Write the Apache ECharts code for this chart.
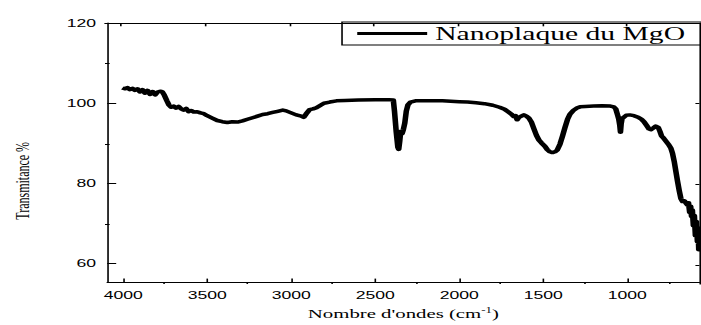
<!DOCTYPE html>
<html>
<head>
<meta charset="utf-8">
<script src="https://cdn.jsdelivr.net/npm/echarts@6/dist/echarts.min.js"></script>
<style>
  html, body { margin: 0; padding: 0; background: #fff; overflow: hidden; }
  /* the reference figure is stretched sideways, so the chart is drawn narrow and scaled */
  #main { width: 438px; height: 325px; transform: scaleX(1.6005); transform-origin: 0 0; }
</style>
</head>
<body>
<div id="main"></div>
<script>
// wavenumber (cm-1) and transmittance (%)
var wavenumbers = [
  4005, 3990, 3975, 3960, 3945, 3930, 3915, 3900, 3885, 3870, 3855, 3840, 3825, 3810, 3795, 3780,
  3768, 3755, 3740, 3728, 3715, 3700, 3685, 3670, 3655, 3640, 3625, 3610, 3595, 3580, 3560, 3540,
  3520, 3500, 3470, 3440, 3410, 3380, 3350, 3320, 3290, 3260, 3230, 3200, 3170, 3140, 3110, 3080,
  3050, 3030, 3000, 2970, 2940, 2925, 2910, 2890, 2870, 2850, 2830, 2805, 2770, 2730, 2680, 2600,
  2500, 2420, 2392, 2385, 2375, 2365, 2360, 2354, 2348, 2340, 2332, 2324, 2315, 2305, 2290, 2260,
  2200, 2100, 2000, 1950, 1900, 1850, 1800, 1760, 1730, 1710, 1690, 1675, 1665, 1655, 1645, 1630,
  1615, 1600, 1585, 1570, 1555, 1540, 1525, 1510, 1490, 1475, 1460, 1445, 1430, 1417, 1400, 1385,
  1370, 1355, 1340, 1320, 1300, 1280, 1250, 1200, 1150, 1100, 1080, 1068, 1058, 1050, 1044, 1040,
  1036, 1030, 1020, 1005, 985, 960, 935, 915, 900, 885, 870, 860, 845, 830, 815, 805,
  795, 785, 770, 755, 740, 730, 720, 710, 700, 690, 680, 670, 660, 650, 640, 635,
  628, 622, 617, 612, 606, 600, 594, 588, 582, 578, 574, 571
];
var transmittance = [
  103.8, 103.6, 103.9, 103.4, 103.7, 103.2, 103.6, 102.8, 103.4, 102.5, 103.2, 102.2, 102.9, 102.1, 102.8, 103.0,
  102.9, 102.0, 100.6, 99.6, 99.0, 99.3, 98.8, 99.2, 98.6, 98.3, 98.7, 97.9, 98.2, 97.8, 97.9, 97.6,
  97.4, 96.9, 96.3, 95.7, 95.4, 95.2, 95.4, 95.3, 95.6, 96.0, 96.4, 96.8, 97.2, 97.4, 97.7, 98.0,
  98.3, 98.1, 97.6, 97.1, 96.8, 96.5, 97.4, 98.4, 98.6, 98.9, 99.4, 100.0, 100.3, 100.6, 100.7, 100.8,
  100.9, 100.9, 100.8, 98.0, 93.0, 89.0, 88.5, 90.5, 93.0, 92.4, 93.5, 95.0, 98.0, 99.6, 100.3, 100.6,
  100.6, 100.6, 100.4, 100.3, 100.1, 99.9, 99.5, 99.0, 98.5, 97.9, 97.3, 96.7, 96.9, 95.9, 96.5, 96.8,
  97.1, 96.8, 96.3, 95.3, 93.6, 92.0, 90.8, 90.1, 89.3, 88.4, 87.9, 87.7, 87.9, 88.3, 89.8, 91.8,
  94.0, 96.0, 97.3, 98.2, 98.8, 99.1, 99.2, 99.3, 99.4, 99.3, 99.1, 98.6, 97.2, 96.0, 94.5, 92.8,
  94.8, 96.3, 96.5, 97.0, 97.1, 96.9, 96.5, 96.0, 95.4, 94.5, 93.6, 93.4, 93.8, 94.3, 94.0, 93.0,
  91.8, 91.4, 90.6, 89.8, 88.8, 87.5, 85.5, 83.0, 80.5, 78.2, 76.2, 75.5, 75.7, 75.1, 74.6, 75.2,
  72.8, 74.3, 71.8, 73.4, 69.5, 72.0, 67.0, 70.5, 65.5, 69.0, 63.5, 66.0
];
var xTicks = [4000, 3500, 3000, 2500, 2000, 1500, 1000];
var xMinorTicks = [3750, 3250, 2750, 2250, 1750, 1250, 750];
var yTicks = [60, 80, 100, 120];
var yMinorTicks = [70, 90, 110];
var seriesName = 'Nanoplaque du MgO';

var chart = echarts.init(document.getElementById('main'), null, { renderer: 'svg' });

var serif = 'Liberation Serif';
var sans = 'Liberation Sans';
var box = { left: 65.6, right: 1, top: 23, bottom: 41 };
var xRange = { min: 570, max: 4095 };
var yRange = { min: 55.3, max: 120 };
var blackLine = { show: true, lineStyle: { color: '#000', width: 1 } };

function plain(v) { return String(v); }

function tickAxis(extra) {
  return Object.assign({
    type: 'value',
    axisLine: blackLine,
    splitLine: { show: false },
    axisLabel: { show: false },
    axisPointer: { show: false }
  }, extra);
}

var points = wavenumbers.map(function (w, i) { return [w, transmittance[i]]; });

var option = {
  animation: false,
  backgroundColor: '#fff',
  grid: [
    Object.assign({}, box),
    Object.assign({}, box),
    Object.assign({}, box)
  ],
  legend: {
    data: [seriesName],
    left: 213.7,
    top: 22,
    itemWidth: 43.7,
    itemHeight: 12,
    padding: [2, 14, 2, 8],
    borderColor: '#000',
    borderWidth: 1,
    lineStyle: { width: 3 },
    itemStyle: { opacity: 0 },
    textStyle: { fontFamily: serif, fontSize: 18.5, color: '#000' }
  },
  xAxis: [
    tickAxis({
      gridIndex: 0, position: 'bottom', inverse: true,
      min: xRange.min, max: xRange.max,
      axisTick: { inside: true, length: 4, customValues: xTicks, lineStyle: { color: '#000' } },
      axisLabel: { show: true, customValues: xTicks, formatter: plain, margin: 7, color: '#000', fontFamily: sans, fontSize: 11 },
      name: "Nombre d'ondes (cm{sup|-1})",
      nameLocation: 'middle',
      nameGap: 22,
      nameTextStyle: {
        fontFamily: serif, fontSize: 13, color: '#000',
        rich: { sup: { fontFamily: serif, fontSize: 8, color: '#000', padding: [0, 0, 8, 0] } }
      }
    }),
    tickAxis({
      gridIndex: 1, position: 'top', inverse: true,
      min: xRange.min, max: xRange.max,
      axisTick: { inside: true, length: 3.3, customValues: xTicks, lineStyle: { color: '#000' } }
    }),
    tickAxis({
      gridIndex: 2, position: 'bottom', inverse: true,
      min: xRange.min, max: xRange.max,
      axisLine: { show: false },
      axisTick: { inside: true, length: 2, customValues: xMinorTicks, lineStyle: { color: '#000' } }
    })
  ],
  yAxis: [
    tickAxis({
      gridIndex: 0, position: 'left',
      min: yRange.min, max: yRange.max,
      axisTick: { inside: true, length: 5.6, customValues: yTicks, lineStyle: { color: '#000' } },
      axisLabel: { show: true, customValues: yTicks, formatter: plain, margin: 7, color: '#000', fontFamily: sans, fontSize: 11 },
      name: 'Transmitance %',
      nameLocation: 'middle',
      nameGap: 47,
      nameTextStyle: { fontFamily: serif, fontSize: 12, color: '#000', padding: [0, 56, 0, 0] }
    }),
    tickAxis({
      gridIndex: 1, position: 'right',
      min: yRange.min, max: yRange.max,
      axisTick: { inside: true, length: 2.5, customValues: yTicks, lineStyle: { color: '#000' } }
    }),
    tickAxis({
      gridIndex: 2, position: 'left',
      min: yRange.min, max: yRange.max,
      axisLine: { show: false },
      axisTick: { inside: true, length: 2.9, customValues: yMinorTicks, lineStyle: { color: '#000' } }
    })
  ],
  series: [{
    name: seriesName,
    type: 'line',
    xAxisIndex: 0,
    yAxisIndex: 0,
    data: points,
    symbol: 'none',
    showSymbol: false,
    lineStyle: { color: '#000', width: 3.5, join: 'round' },
    itemStyle: { color: '#000' }
  }]
};

chart.setOption(option);
</script>
</body>
</html>
